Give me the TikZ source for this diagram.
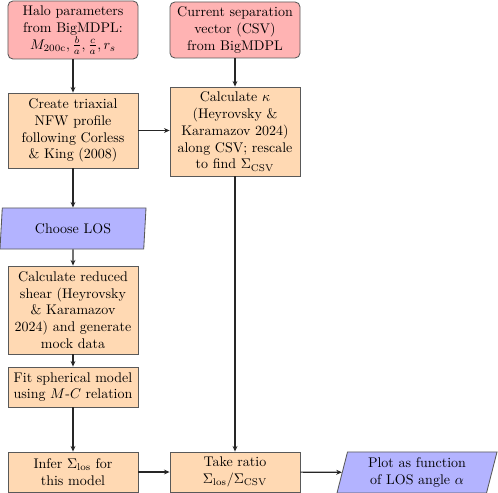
\documentclass[tikz,border=0pt]{standalone}
\usetikzlibrary{shapes.geometric,arrows.meta}
\definecolor{redbox}{HTML}{FFB3B3}
\definecolor{orangebox}{HTML}{FFD9B3}
\definecolor{bluebox}{HTML}{B3B3FF}
\begin{document}
\begin{tikzpicture}[x=0.7143pt,y=-0.7143pt,
  base/.style={draw=black!65, line width=0.6pt, align=center, inner sep=1pt},
  srcbox/.style={base, fill=redbox, rounded corners=3.5pt, minimum width=92.86pt},
  procbox/.style={base, fill=orangebox, minimum width=92.86pt},
  iobox/.style={base, fill=bluebox, trapezium, trapezium stretches body=true},
  arr/.style={draw=black!85, line width=0.8pt, -{Stealth[length=4pt,width=3.5pt]}}]
\useasboundingbox (0,0) rectangle (498,493);

\node[srcbox, minimum height=41.43pt] (halo) at (73,30) {Halo parameters\\from BigMDPL:\\$M_{200\mathrm{c}}, \frac{b}{a}, \frac{c}{a}, r_s$};
\node[srcbox, minimum height=40pt] (csv) at (235,30) {Current separation\\vector (CSV)\\from BigMDPL};

\node[procbox, minimum height=53.57pt] (create) at (73,130.5) {Create triaxial\\NFW profile\\following Corless\\\& King (2008)};
\node[procbox, minimum height=63.57pt] (kappa) at (235,131.5) {Calculate $\kappa$\\(Heyrovsky \&\\Karamazov 2024)\\along CSV; rescale\\to find $\Sigma_{\mathrm{CSV}}$};

\node[iobox, trapezium left angle=80, trapezium right angle=100, minimum width=104.3pt, minimum height=29.3pt] (los) at (73,228.5) {Choose LOS};

\node[procbox, minimum height=62.86pt] (shear) at (73,310) {Calculate reduced\\shear (Heyrovsky\\\& Karamazov\\2024) and generate\\mock data};
\node[procbox, minimum height=28.57pt] (fit) at (73,387) {Fit spherical model\\using $M$-$C$ relation};
\node[procbox, minimum height=28.57pt] (infer) at (73,472) {Infer $\Sigma_{\mathrm{los}}$ for\\this model};
\node[procbox, minimum height=28.57pt] (ratio) at (235,472) {Take ratio\\$\Sigma_{\mathrm{los}}/\Sigma_{\mathrm{CSV}}$};
\node[iobox, trapezium left angle=72, trapezium right angle=108, minimum width=114.3pt, minimum height=29.3pt] (plot) at (417,472.5) {Plot as function\\of LOS angle $\alpha$};

\draw[arr] (halo) -- (create);
\draw[arr] (csv) -- (kappa);
\draw[arr] (create.east) -- (create.east -| kappa.west);
\draw[arr] (create) -- (los);
\draw[arr] (los) -- (shear);
\draw[arr] (shear) -- (fit);
\draw[arr] (fit) -- (infer);
\draw[arr] (infer) -- (ratio);
\draw[arr] (kappa) -- (ratio);
\draw[arr] (ratio) -- (plot);
\end{tikzpicture}
\end{document}
